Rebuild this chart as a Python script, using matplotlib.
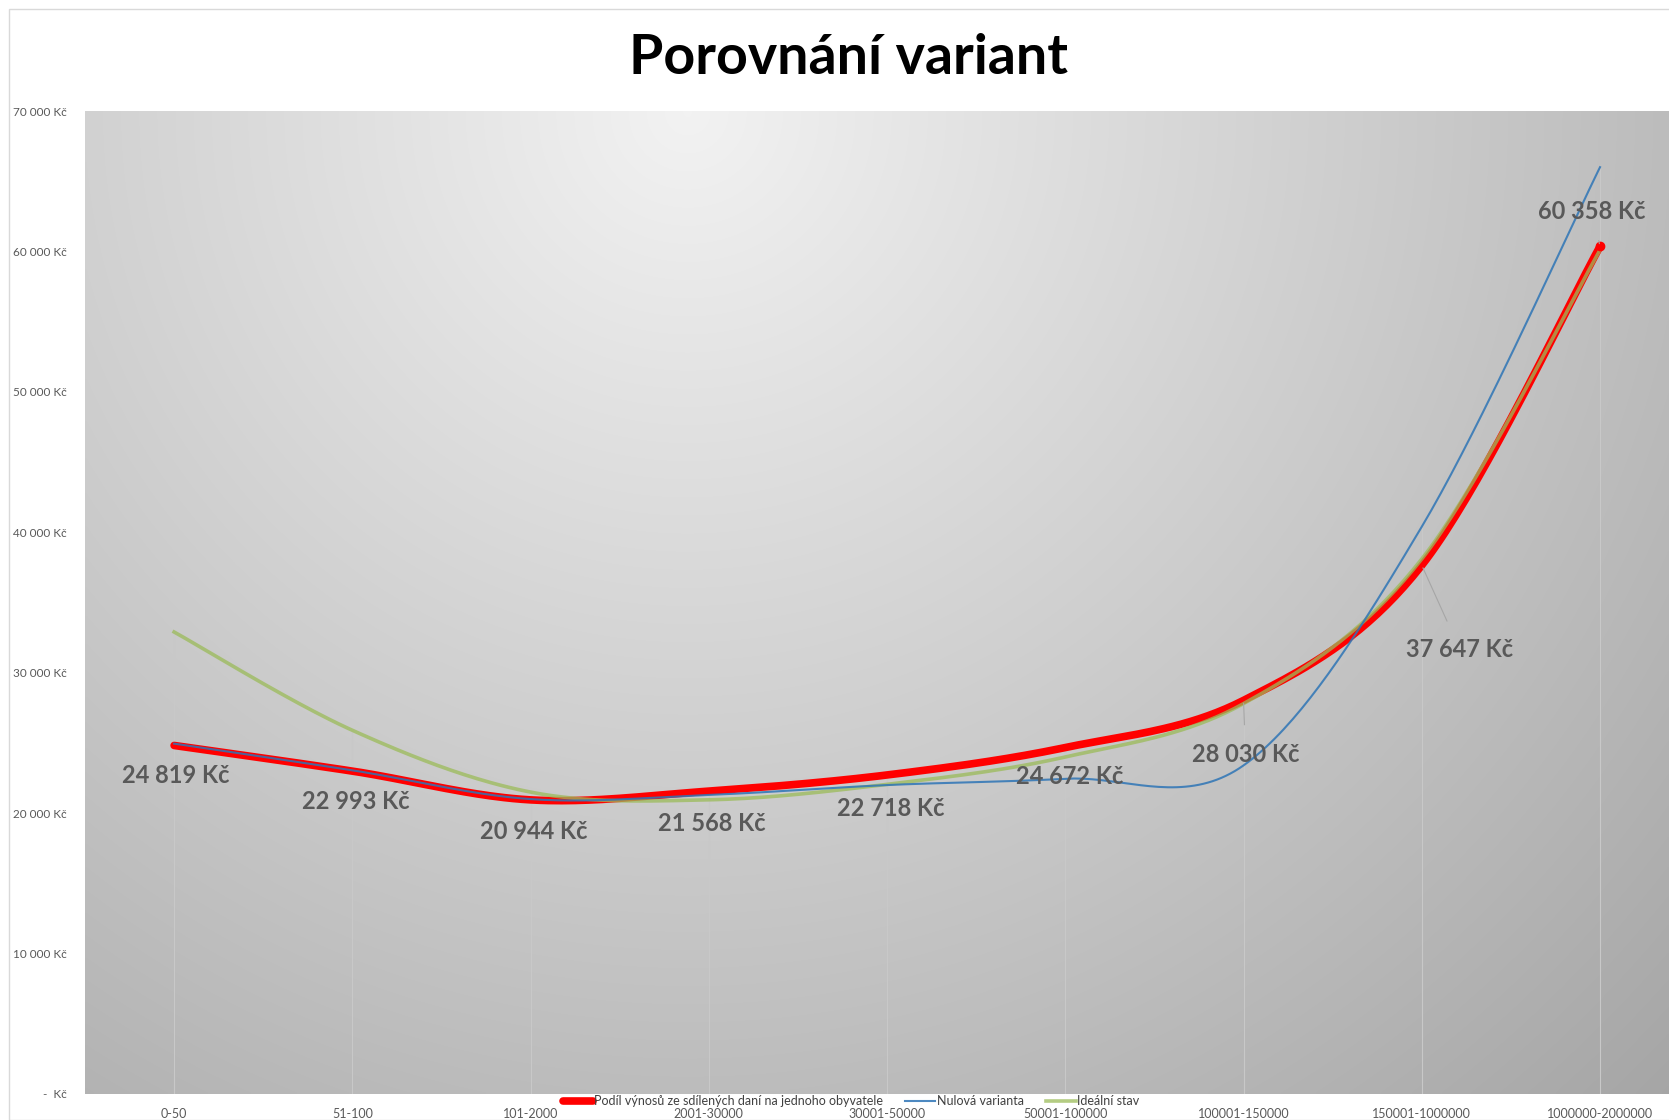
import numpy as np
import matplotlib
matplotlib.use("Agg")
import matplotlib.pyplot as plt
from matplotlib.patches import Rectangle

plt.rcParams['font.family'] = ['Lato', 'DejaVu Sans']

# --- DATA ---
kategorie = ['0-50', '51-100', '101-2000', '2001-30000', '30001-50000',
             '50001-100000', '100001-150000', '150001-1000000', '1000000-2000000']
podil = [24819, 22993, 20944, 21568, 22718, 24672, 28030, 37647, 60358]
nulova = [24950, 23050, 21000, 21300, 22000, 22450, 23400, 40400, 66000]
idealni = [32900, 25900, 21500, 20950, 22050, 24000, 27800, 38100, 60100]
popisky = ['24 819 Kč', '22 993 Kč', '20 944 Kč', '21 568 Kč', '22 718 Kč',
           '24 672 Kč', '28 030 Kč', '37 647 Kč', '60 358 Kč']
y_ticks = [0, 10000, 20000, 30000, 40000, 50000, 60000, 70000]
y_labels = ['-  Kč', '10 000 Kč', '20 000 Kč', '30 000 Kč', '40 000 Kč',
            '50 000 Kč', '60 000 Kč', '70 000 Kč']
# posun popisku v pixelech (dx, dy)
label_off = [(2, -30), (3, -30), (3, -32), (3, -32), (4, -34), (4, -29),
             (2, -54), (38, -84), (-8, 35)]
leader = [False, False, False, False, False, False, True, True, True]


def smooth(y, n=40):
    # hladka krivka jako v Excelu (Catmull-Rom / Bezier)
    x = np.arange(len(y), dtype=float)
    p = np.column_stack([x, np.asarray(y, dtype=float)])
    pts = []
    for i in range(len(p) - 1):
        p0 = p[i - 1] if i > 0 else p[i]
        p1 = p[i]
        p2 = p[i + 1]
        p3 = p[i + 2] if i + 2 < len(p) else p[i + 1]
        c1 = p1 + (p2 - p0) / 6.0
        c2 = p2 - (p3 - p1) / 6.0
        t = np.linspace(0, 1, n, endpoint=(i == len(p) - 2))[:, None]
        b = ((1 - t) ** 3) * p1 + 3 * ((1 - t) ** 2) * t * c1 + 3 * (1 - t) * t ** 2 * c2 + t ** 3 * p2
        pts.append(b)
    pts = np.vstack(pts)
    return pts[:, 0], pts[:, 1]


fig = plt.figure(figsize=(16.69, 11.2), dpi=100)
fig.patch.set_facecolor('white')
ax = fig.add_axes([85 / 1669, 26 / 1120, 1 - 85 / 1669, (1094 - 111) / 1120])

# --- GRADIENT POZADI ---
u, v = np.meshgrid(np.linspace(0, 1, 400), np.linspace(0, 1, 300))
d = np.sqrt(((u - 0.38) * 1584) ** 2 + ((v - 1.0) * 983) ** 2)
d = d / d.max()
g = 0.95 - 0.30 * d
rgb = np.dstack([g, g, g])
ax.imshow(rgb, extent=[0, 1, 0, 1], transform=ax.transAxes, origin='lower',
          aspect='auto', zorder=0, interpolation='bilinear')

x = np.arange(len(kategorie))

# drop lines
top = np.maximum(np.maximum(podil, nulova), idealni)
ax.vlines(x, 0, top, color='#c8c8c8', linewidth=0.8, zorder=1)

xs, ys = smooth(podil)
ax.plot(xs, ys, color='#ff0000', linewidth=5.5, solid_capstyle='round', zorder=3,
        label='Podíl výnosů ze sdílených daní na jednoho obyvatele')
xs, ys = smooth(nulova)
ax.plot(xs, ys, color='#2e75b6', linewidth=1.5, zorder=4, alpha=0.85,
        label='Nulová varianta')
xs, ys = smooth(idealni)
ax.plot(xs, ys, color='#9bbb59', linewidth=2.6, zorder=3.5, alpha=0.75,
        label='Ideální stav')
ax.plot([x[-1]], [podil[-1]], 'o', color='#ff0000', markersize=6, zorder=5)

for i, txt in enumerate(popisky):
    arrow = dict(arrowstyle='-', color='#a6a6a6', linewidth=0.8,
                 shrinkA=11, shrinkB=2) if leader[i] else None
    ax.annotate(txt, (x[i], podil[i]), xytext=label_off[i], textcoords='offset pixels',
                ha='center', va='center', fontsize=17, fontweight='bold',
                color='#595959', arrowprops=arrow, zorder=6)

ax.set_xlim(-0.5, 8 + 69 / 178.3)
ax.set_ylim(0, 70000)
ax.set_xticks(x)
ax.set_xticklabels(kategorie, fontsize=9, color='#595959')
ax.set_yticks(y_ticks)
ax.set_yticklabels(y_labels, fontsize=8.5, color='#595959')
ax.tick_params(axis='both', length=0)
ax.tick_params(axis='y', pad=13)
ax.tick_params(axis='x', pad=10)
for s in ax.spines.values():
    s.set_visible(False)

fig.text(848 / 1669, 1 - 58 / 1120, 'Porovnání variant', ha='center', va='center',
         fontsize=40, fontweight='bold', color='black')

leg = fig.legend(loc='center', bbox_to_anchor=(851 / 1669, 19 / 1120), ncol=3,
                 frameon=False, fontsize=9, handlelength=2.4, columnspacing=1.8,
                 handletextpad=0.1, labelcolor='#404040')

fig.patches.append(Rectangle((8.5 / 1669, 0), 1, 1 - 8.5 / 1120, transform=fig.transFigure,
                             fill=False, edgecolor='#d9d9d9', linewidth=1, zorder=-1))

fig.savefig('out.png', dpi=100, facecolor='white')
